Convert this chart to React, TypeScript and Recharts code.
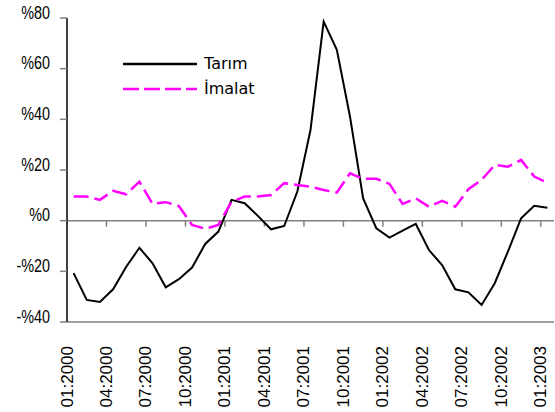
import { LineChart, Line, XAxis, YAxis, ReferenceLine, Legend } from "recharts";

const months = [
  "01:2000", "02:2000", "03:2000", "04:2000", "05:2000", "06:2000",
  "07:2000", "08:2000", "09:2000", "10:2000", "11:2000", "12:2000",
  "01:2001", "02:2001", "03:2001", "04:2001", "05:2001", "06:2001",
  "07:2001", "08:2001", "09:2001", "10:2001", "11:2001", "12:2001",
  "01:2002", "02:2002", "03:2002", "04:2002", "05:2002", "06:2002",
  "07:2002", "08:2002", "09:2002", "10:2002", "11:2002", "12:2002",
  "01:2003",
];

const tarim = [
  -20.7, -31.3, -32.1, -27.1, -18.2, -10.7, -16.8, -26.3, -23.1, -18.5, -9.2, -4.3,
  8.2, 6.9, 1.9, -3.4, -2.1, 11.5, 35.8, 78.6, 67.4, 41.1, 8.8, -3.0,
  -6.7, -3.9, -1.3, -11.6, -17.5, -27.1, -28.3, -33.3, -24.7, -12.2, 0.9, 5.9,
  5.1,
];

const imalat = [
  9.5, 9.5, 8.2, 11.8, 10.4, 15.4, 6.6, 7.3, 5.8, -1.7, -3.2, -1.7,
  7.5, 9.5, 9.5, 10.1, 14.8, 14.1, 13.4, 12.1, 11.1, 18.7, 16.5, 16.5,
  14.5, 6.6, 8.8, 5.5, 7.8, 5.5, 12.4, 16.1, 22.0, 21.3, 24.0, 17.4,
  15.0,
];

const yTicks = [-40, -20, 0, 20, 40, 60, 80];

const data = months.map((m, i) => ({ month: m, tarim: tarim[i], imalat: imalat[i] }));

const GRAY = "#808080";
const MAGENTA = "#FF00FF";
const HALF_BAND = 6.6;

const pct = (v: number) => (v < 0 ? `-%${Math.abs(v)}` : `%${v}`);

// narrow-looking labels: no narrow font installed, so squeeze Liberation Sans
const YTick = ({ x, y, payload }: any) => (
  <text
    transform={`translate(${x} ${y + 0.5}) scale(0.8 1)`}
    textAnchor="end"
    fill="#000"
    fontSize={18}
    fontFamily="'Liberation Sans', Arial, sans-serif"
  >
    {pct(payload.value)}
  </text>
);

const XTick = ({ x, y, payload }: any) => {
  const tx = x - HALF_BAND;
  const ty = y + 16;
  return (
    <text
      x={tx}
      y={ty}
      transform={`rotate(-90 ${tx} ${ty})`}
      textAnchor="end"
      dominantBaseline="central"
      fill="#000"
      fontSize={17}
      fontFamily="'Liberation Sans', Arial, sans-serif"
    >
      {payload.value}
    </text>
  );
};

// zero line with the month ticks hanging below it
const ZeroLine = (props: any) => {
  const { x1, y1, x2 } = props;
  const bw = (x2 - x1) / months.length;
  const ticks = [];
  for (let k = 3; k < months.length; k += 3) {
    const tx = x1 + k * bw;
    ticks.push(<line key={k} x1={tx} y1={y1} x2={tx} y2={y1 + 6} stroke={GRAY} strokeWidth={1.5} />);
  }
  return (
    <g>
      <line x1={x1} y1={y1} x2={x2} y2={y1} stroke={GRAY} strokeWidth={1.5} />
      {ticks}
    </g>
  );
};

const LegendBox = () => (
  <div style={{ fontFamily: "'DejaVu Sans', Verdana, sans-serif", fontSize: 16, color: "#000" }}>
    {[
      { name: "Tarım", color: "#000", dash: undefined },
      { name: "İmalat", color: MAGENTA, dash: "16 5" },
    ].map((item) => (
      <div key={item.name} style={{ display: "flex", alignItems: "center", height: 25 }}>
        <svg width={81} height={6} style={{ display: "block" }}>
          <line x1={0} y1={3} x2={74} y2={3} stroke={item.color} strokeWidth={2.5} strokeDasharray={item.dash} />
        </svg>
        <span style={{ lineHeight: "25px" }}>{item.name}</span>
      </div>
    ))}
  </div>
);

export default function App() {
  return (
    <div style={{ position: "absolute", left: 0, top: 0, width: 555, height: 412, background: "#fff" }}>
      <LineChart width={555} height={412} data={data} margin={{ top: 18, right: 1, bottom: 0, left: 0 }}>
        <XAxis
          dataKey="month"
          interval={2}
          height={90}
          padding={{ left: HALF_BAND, right: HALF_BAND }}
          axisLine={{ stroke: GRAY, strokeWidth: 1.5 }}
          tickLine={false}
          tick={<XTick />}
        />
        <XAxis
          xAxisId="top"
          orientation="top"
          dataKey="month"
          height={0}
          tick={false}
          tickLine={false}
          axisLine={{ stroke: GRAY, strokeWidth: 1.5 }}
        />
        <YAxis
          domain={[-40, 80]}
          ticks={yTicks}
          width={67}
          tickSize={7}
          tickMargin={10}
          axisLine={{ stroke: "#000", strokeWidth: 1.5 }}
          tickLine={{ stroke: GRAY, strokeWidth: 1.5 }}
          tick={<YTick />}
        />
        <YAxis
          yAxisId="right"
          orientation="right"
          domain={[-40, 80]}
          width={0}
          tick={false}
          tickLine={false}
          axisLine={{ stroke: GRAY, strokeWidth: 1.5 }}
        />
        <ReferenceLine y={0} shape={ZeroLine} />
        <Line
          dataKey="tarim"
          name="Tarım"
          stroke="#000"
          strokeWidth={2}
          dot={false}
          isAnimationActive={false}
        />
        <Line
          dataKey="imalat"
          name="İmalat"
          stroke={MAGENTA}
          strokeWidth={2.5}
          strokeDasharray="15 6"
          dot={false}
          isAnimationActive={false}
        />
        <Legend
          layout="horizontal"
          verticalAlign="middle"
          align="center"
          content={<LegendBox />}
          wrapperStyle={{ left: 123, top: 51, width: "auto" }}
        />
      </LineChart>
    </div>
  );
}
